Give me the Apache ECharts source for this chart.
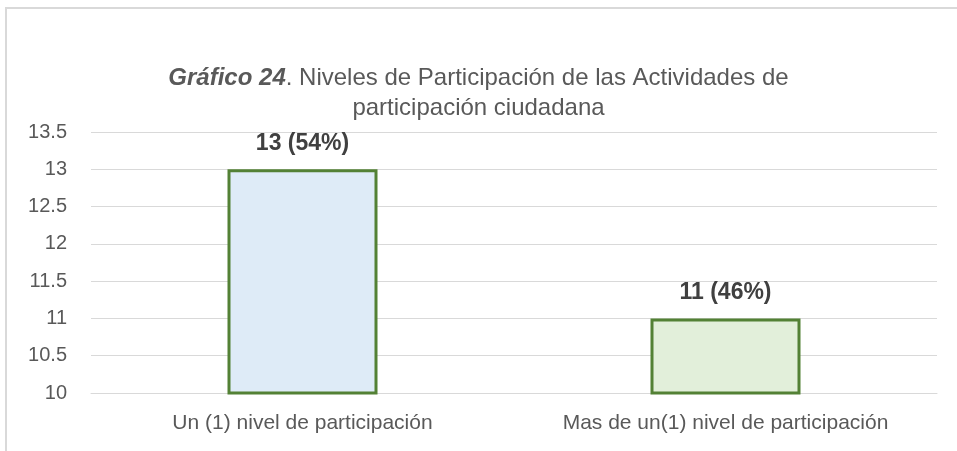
<!DOCTYPE html>
<html>
<head>
<meta charset="utf-8">
<script src="https://cdn.jsdelivr.net/npm/echarts@6/dist/echarts.min.js"></script>
<style>
  body { margin: 0; background: #fff; }
  #frame {
    position: absolute; left: 5px; top: 7px; width: 980px; height: 480px;
    border: 2px solid #d9d9d9; box-sizing: border-box;
  }
  #chart { position: absolute; left: 0; top: 0; width: 957px; height: 451px; }
</style>
</head>
<body>
<div id="frame"></div>
<div id="chart"></div>
<script>
const categories = ['Un (1) nivel de participación', 'Mas de un(1) nivel de participación']
const values = [13, 11]
const percents = ['54%', '46%']
const fills = ['#deebf7', '#e2efda']

const chart = echarts.init(document.getElementById('chart'))
chart.setOption({
  animation: false,
  title: {
    text: '{b|Gráfico 24}. Niveles de Participación de las Actividades de\nparticipación ciudadana',
    left: 'center',
    top: 58,
    textStyle: {
      fontFamily: 'Liberation Sans',
      fontSize: 24,
      fontWeight: 'normal',
      color: '#595959',
      lineHeight: 30,
      rich: {
        b: { fontFamily: 'Liberation Sans', fontSize: 24, fontWeight: 'bold', fontStyle: 'italic', color: '#595959', lineHeight: 30 }
      }
    }
  },
  grid: { left: 91, right: 20, top: 132, bottom: 58, containLabel: false },
  xAxis: {
    type: 'category',
    data: categories,
    axisLine: { lineStyle: { color: '#d9d9d9' } },
    axisTick: { show: false },
    axisLabel: { interval: 0, fontFamily: 'Liberation Sans', fontSize: 21, color: '#595959', margin: 20 }
  },
  yAxis: {
    type: 'value',
    min: 10,
    max: 13.5,
    interval: 0.5,
    axisLine: { show: false },
    axisTick: { show: false },
    splitLine: { lineStyle: { color: '#d9d9d9', width: 1 } },
    axisLabel: { fontFamily: 'Liberation Sans', fontSize: 20, color: '#595959', margin: 24 }
  },
  series: [{
    type: 'bar',
    barWidth: 150,
    data: values.map((v, i) => ({
      value: v,
      itemStyle: { color: fills[i], borderColor: '#538135', borderWidth: 3 }
    })),
    label: {
      show: true,
      position: 'top',
      distance: 14,
      fontFamily: 'Liberation Sans',
      fontSize: 23,
      fontWeight: 'bold',
      color: '#404040',
      formatter: p => p.value + ' (' + percents[p.dataIndex] + ')'
    }
  }]
})
</script>
</body>
</html>
